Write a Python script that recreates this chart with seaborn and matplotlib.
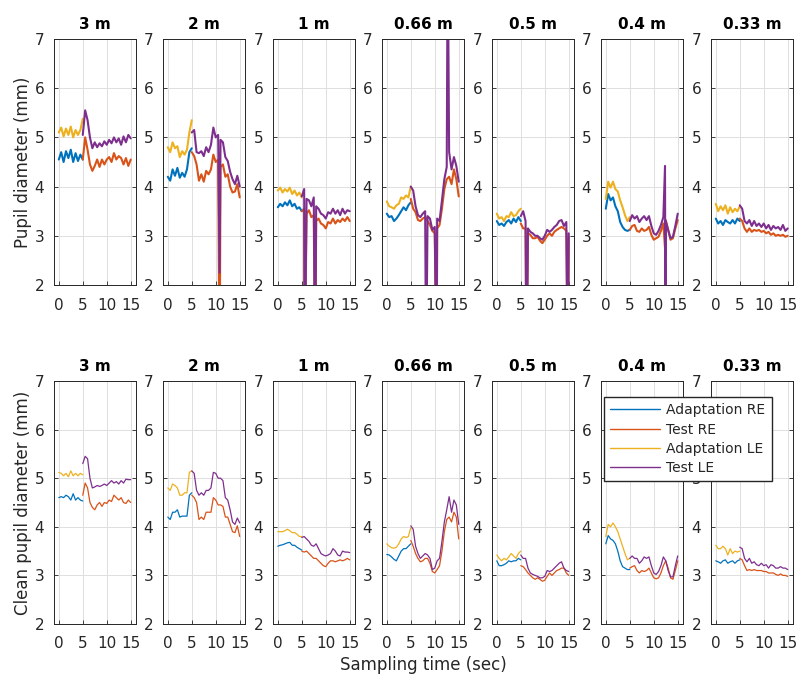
import numpy as np
import matplotlib
matplotlib.use("Agg")
import matplotlib.pyplot as plt
import seaborn as sns

# --- data ---
distances = ['3 m', '2 m', '1 m', '0.66 m', '0.5 m', '0.4 m', '0.33 m']
t_adapt = [0, 0.5, 1, 1.5, 2, 2.5, 3, 3.5, 4, 4.5, 5]
t_test = [5, 5.5, 6, 6.5, 7, 7.5, 8, 8.5, 9, 9.5, 10, 10.5, 11, 11.5, 12, 12.5,
          13, 13.5, 14, 14.5, 15]

# raw recordings (top row), one row per distance
raw_adapt_re = [
    [4.55, 4.7, 4.5, 4.72, 4.58, 4.75, 4.5, 4.68, 4.52, 4.65, 4.55],
    [4.2, 4.12, 4.35, 4.22, 4.38, 4.18, 4.28, 4.2, 4.35, 4.7, 4.78],
    [3.58, 3.65, 3.6, 3.68, 3.62, 3.72, 3.6, 3.65, 3.55, 3.58, 3.5],
    [3.45, 3.38, 3.4, 3.3, 3.35, 3.42, 3.5, 3.58, 3.52, 3.62, 3.68],
    [3.3, 3.22, 3.25, 3.2, 3.28, 3.32, 3.25, 3.35, 3.28, 3.38, 3.3],
    [3.55, 3.85, 3.72, 3.78, 3.6, 3.5, 3.28, 3.18, 3.12, 3.1, 3.12],
    [3.35, 3.25, 3.3, 3.22, 3.32, 3.28, 3.25, 3.32, 3.25, 3.35, 3.3],
]
raw_adapt_le = [
    [5.1, 5.2, 5.02, 5.18, 5.05, 5.22, 5.0, 5.15, 5.05, 5.15, 5.38],
    [4.8, 4.7, 4.9, 4.78, 4.82, 4.6, 4.72, 4.65, 4.75, 5.1, 5.35],
    [3.92, 3.98, 3.88, 3.95, 3.9, 3.98, 3.85, 3.92, 3.82, 3.88, 3.78],
    [3.7, 3.6, 3.58, 3.55, 3.62, 3.65, 3.78, 3.75, 3.82, 3.78, 4.0],
    [3.45, 3.35, 3.38, 3.3, 3.4, 3.38, 3.48, 3.4, 3.42, 3.5, 3.55],
    [3.75, 4.1, 3.98, 4.1, 3.95, 3.9, 3.72, 3.58, 3.42, 3.3, 3.38],
    [3.65, 3.5, 3.6, 3.52, 3.62, 3.45, 3.58, 3.48, 3.55, 3.5, 3.6],
]
raw_test_re = [
    [4.55, 5.0, 4.75, 4.45, 4.32, 4.42, 4.55, 4.4, 4.55, 4.45, 4.55, 4.6, 4.5, 4.68, 4.55, 4.62, 4.58, 4.45, 4.58, 4.42, 4.55],
    [4.7, 4.62, 4.45, 4.12, 4.25, 4.1, 4.32, 4.25, 4.35, 4.65, 4.5, 4.55, 4.4, 4.45, 4.2, 4.25, 4.0, 3.88, 3.9, 4.05, 3.78],
    [3.5, 3.55, 3.45, 3.52, 3.38, 3.42, 3.3, 3.35, 3.25, 3.22, 3.15, 3.28, 3.25, 3.35, 3.25, 3.32, 3.28, 3.35, 3.3, 3.38, 3.3],
    [3.75, 3.55, 3.48, 3.32, 3.3, 3.35, 3.38, 3.3, 3.22, 3.1, 3.05, 3.15, 3.22, 3.55, 3.95, 4.15, 4.2, 4.05, 4.35, 4.15, 3.8],
    [3.25, 3.15, 3.15, 3.05, 3.02, 2.95, 2.95, 2.98, 2.9, 2.85, 2.92, 3.0, 3.05, 3.0, 3.08, 3.12, 3.15, 3.18, 3.15, 3.1, 2.98],
    [3.12, 3.2, 3.22, 3.1, 3.08, 3.15, 3.1, 3.12, 3.18, 3.02, 2.92, 2.95, 2.98, 3.1, 3.25, 3.32, 3.12, 2.92, 2.95, 3.15, 3.32],
    [3.35, 3.3, 3.15, 3.08, 3.15, 3.08, 3.12, 3.1, 3.12, 3.08, 3.1, 3.05, 3.08, 3.02, 3.05, 3.0, 3.02, 3.0, 3.02, 2.98, 3.0],
]
raw_test_le = [
    [5.05, 5.55, 5.35, 5.0, 4.78, 4.9, 4.8, 4.88, 4.82, 4.92, 4.85, 4.95, 4.88, 5.0, 4.9, 4.98, 4.85, 5.02, 4.9, 5.05, 4.98],
    [5.1, 5.15, 4.7, 4.68, 4.72, 4.62, 4.8, 4.7, 4.85, 5.2, 5.0, 5.05, 4.95, 4.9, 4.6, 4.52, 4.3, 4.15, 4.05, 4.22, 4.0],
    [3.8, 3.95, 3.75, 3.72, 3.6, 3.78, 3.6, 3.55, 3.45, 3.42, 3.35, 3.48, 3.45, 3.55, 3.45, 3.52, 3.42, 3.55, 3.45, 3.52, 3.5],
    [4.0, 3.92, 3.6, 3.42, 3.38, 3.45, 3.5, 3.4, 3.35, 3.12, 3.18, 3.35, 3.3, 3.72, 4.15, 4.4, 4.7, 4.35, 4.6, 4.42, 4.1],
    [3.4, 3.5, 3.3, 3.15, 3.08, 3.05, 3.0, 3.0, 2.95, 2.92, 3.0, 3.12, 3.08, 3.12, 3.18, 3.22, 3.3, 3.32, 3.2, 3.28, 3.05],
    [3.3, 3.42, 3.35, 3.4, 3.28, 3.35, 3.4, 3.32, 3.4, 3.2, 3.05, 3.02, 3.1, 3.22, 3.38, 3.3, 3.12, 2.95, 2.98, 3.2, 3.45],
    [3.62, 3.55, 3.3, 3.25, 3.32, 3.2, 3.3, 3.2, 3.25, 3.18, 3.25, 3.15, 3.22, 3.12, 3.2, 3.15, 3.18, 3.12, 3.22, 3.1, 3.15],
]

# blink / artifact samples in the raw test recordings
art_panel = [1, 1, 2, 2, 2, 2, 3, 3, 3, 3, 4, 4, 4, 4, 5, 5, 5]
art_eye = ['RE', 'LE', 'RE', 'LE', 'RE', 'LE', 'LE', 'RE', 'LE', 'LE', 'RE', 'LE', 'RE', 'LE', 'LE', 'LE', 'RE']
art_time = [10.8, 10.8, 5.6, 5.6, 7.8, 7.8, 8.2, 10.4, 10.4, 12.7, 6.2, 6.2, 14.8, 14.8, 12.35, 12.45, 12.45]
art_value = [0, 2.25, 0, 0, 0, 0, 0, 0, 0, 9, 0, 0, 0, 0, 4.42, 0, 2.6]

# cleaned recordings (bottom row)
clean_adapt_re = [
    [4.6, 4.62, 4.6, 4.65, 4.62, 4.55, 4.68, 4.55, 4.6, 4.55, 4.53],
    [4.2, 4.15, 4.3, 4.3, 4.35, 4.2, 4.22, 4.22, 4.22, 4.65, 4.7],
    [3.6, 3.62, 3.63, 3.65, 3.67, 3.68, 3.62, 3.62, 3.58, 3.55, 3.52],
    [3.43, 3.42, 3.38, 3.33, 3.3, 3.4, 3.5, 3.55, 3.55, 3.6, 3.65],
    [3.3, 3.2, 3.2, 3.22, 3.25, 3.3, 3.28, 3.3, 3.3, 3.35, 3.32],
    [3.65, 3.82, 3.75, 3.72, 3.65, 3.5, 3.3, 3.18, 3.15, 3.12, 3.12],
    [3.3, 3.28, 3.25, 3.3, 3.32, 3.25, 3.28, 3.3, 3.25, 3.3, 3.32],
]
clean_adapt_le = [
    [5.12, 5.1, 5.05, 5.1, 5.03, 5.15, 5.05, 5.1, 5.05, 5.1, 5.07],
    [4.8, 4.75, 4.88, 4.85, 4.8, 4.65, 4.65, 4.7, 4.7, 5.12, 5.15],
    [3.9, 3.9, 3.9, 3.92, 3.95, 3.92, 3.88, 3.88, 3.85, 3.8, 3.8],
    [3.65, 3.6, 3.57, 3.56, 3.58, 3.65, 3.75, 3.8, 3.78, 3.8, 3.98],
    [3.42, 3.35, 3.3, 3.35, 3.32, 3.38, 3.45, 3.4, 3.35, 3.45, 3.5],
    [3.8, 4.05, 4.0, 4.08, 4.0, 3.9, 3.75, 3.6, 3.45, 3.32, 3.35],
    [3.62, 3.55, 3.55, 3.6, 3.55, 3.42, 3.55, 3.45, 3.5, 3.48, 3.5],
]
clean_test_re = [
    [4.65, 4.9, 4.8, 4.5, 4.4, 4.35, 4.45, 4.5, 4.42, 4.5, 4.48, 4.55, 4.52, 4.65, 4.6, 4.55, 4.6, 4.5, 4.48, 4.55, 4.5],
    [4.65, 4.6, 4.5, 4.15, 4.2, 4.15, 4.3, 4.3, 4.3, 4.6, 4.55, 4.45, 4.45, 4.42, 4.2, 4.2, 4.05, 3.9, 3.88, 4.02, 3.8],
    [3.5, 3.48, 3.5, 3.45, 3.4, 3.35, 3.35, 3.3, 3.25, 3.2, 3.18, 3.25, 3.3, 3.3, 3.28, 3.3, 3.32, 3.3, 3.32, 3.35, 3.32],
    [3.72, 3.6, 3.45, 3.35, 3.28, 3.3, 3.35, 3.35, 3.25, 3.08, 3.05, 3.12, 3.2, 3.5, 3.9, 4.15, 4.2, 4.1, 4.3, 4.2, 3.75],
    [3.2, 3.18, 3.12, 3.05, 3.0, 2.95, 2.92, 2.95, 2.92, 2.88, 2.9, 2.98, 3.05, 3.0, 3.05, 3.1, 3.12, 3.15, 3.15, 3.05, 3.0],
    [3.15, 3.18, 3.2, 3.1, 3.05, 3.1, 3.08, 3.1, 3.15, 3.05, 2.95, 2.93, 2.95, 3.05, 3.2, 3.3, 3.15, 2.95, 2.92, 3.1, 3.3],
    [3.35, 3.32, 3.2, 3.1, 3.12, 3.1, 3.12, 3.1, 3.1, 3.1, 3.08, 3.08, 3.05, 3.05, 3.05, 3.02, 3.0, 3.03, 3.0, 3.0, 2.98],
]
clean_test_le = [
    [5.3, 5.45, 5.4, 5.0, 4.8, 4.82, 4.85, 4.83, 4.85, 4.88, 4.85, 4.9, 4.95, 4.9, 4.93, 4.88, 4.95, 4.9, 4.98, 4.97, 4.97],
    [5.15, 5.1, 4.75, 4.65, 4.7, 4.65, 4.75, 4.75, 4.8, 5.12, 5.1, 5.0, 5.0, 4.95, 4.6, 4.55, 4.35, 4.1, 4.05, 4.18, 4.08],
    [3.78, 3.8, 3.75, 3.7, 3.62, 3.6, 3.65, 3.55, 3.45, 3.42, 3.4, 3.42, 3.45, 3.55, 3.5, 3.42, 3.4, 3.5, 3.48, 3.48, 3.47],
    [4.02, 3.95, 3.6, 3.45, 3.35, 3.4, 3.45, 3.42, 3.35, 3.12, 3.15, 3.3, 3.35, 3.7, 4.1, 4.35, 4.62, 4.3, 4.55, 4.45, 4.05],
    [3.42, 3.35, 3.35, 3.15, 3.05, 3.02, 3.0, 2.98, 2.95, 2.95, 2.98, 3.1, 3.08, 3.1, 3.15, 3.2, 3.25, 3.28, 3.15, 3.1, 3.08],
    [3.35, 3.4, 3.35, 3.35, 3.25, 3.3, 3.38, 3.35, 3.38, 3.2, 3.05, 3.02, 3.08, 3.2, 3.38, 3.3, 3.1, 2.97, 2.97, 3.2, 3.4],
    [3.58, 3.55, 3.35, 3.28, 3.35, 3.25, 3.28, 3.22, 3.2, 3.25, 3.2, 3.22, 3.15, 3.22, 3.2, 3.15, 3.15, 3.18, 3.15, 3.15, 3.12],
]

labels = ['Adaptation RE', 'Test RE', 'Adaptation LE', 'Test LE']
colors = ['#0072BD', '#D95319', '#EDB120', '#7E2F8E']

sns.set_style("white")
plt.rcParams['font.family'] = ['DejaVu Sans']
ink = '#262626'


def with_artifacts(panel, eye, values):
    # merge blink/artifact samples into the test trace, in time order
    t = list(t_test)
    v = list(values)
    for p, e, ta, va in zip(art_panel, art_eye, art_time, art_value):
        if p == panel and e == eye:
            t.append(ta)
            v.append(va)
    order = np.argsort(t, kind='stable')
    return np.array(t)[order], np.array(v)[order]


fig = plt.figure(figsize=(7.98, 6.75), dpi=100)
lefts = [54, 163, 273, 382, 492, 601, 711]
W, H = 798, 675
rows = [(39, 285), (381, 624)]

for r, (top, bot) in enumerate(rows):
    for i, name in enumerate(distances):
        ax = fig.add_axes([lefts[i] / W, 1 - bot / H, 82 / W, (bot - top) / H])
        if r == 0:
            tre, vre = with_artifacts(i, 'RE', raw_test_re[i])
            tle, vle = with_artifacts(i, 'LE', raw_test_le[i])
            series = [(t_adapt, raw_adapt_re[i]), (tre, vre),
                      (t_adapt, raw_adapt_le[i]), (tle, vle)]
            lw = 1.5
        else:
            series = [(t_adapt, clean_adapt_re[i]), (t_test, clean_test_re[i]),
                      (t_adapt, clean_adapt_le[i]), (t_test, clean_test_le[i])]
            lw = 0.9
        for (x, y), c in zip(series, colors):
            sns.lineplot(x=x, y=y, ax=ax, color=c, lw=lw, estimator=None,
                         sort=False, legend=False)
        ax.set_xlim(-1, 16.1)
        ax.set_ylim(2, 7)
        ax.set_xticks([0, 5, 10, 15])
        ax.set_yticks([2, 3, 4, 5, 6, 7])
        ax.grid(True, color='#dedede', lw=0.7)
        ax.tick_params(direction='in', length=3, width=0.6, colors=ink,
                       labelsize=11, left=True, right=True, bottom=True)
        ax.tick_params(axis='x', pad=9)
        ax.tick_params(axis='y', pad=7)
        for sp in ax.spines.values():
            sp.set_color(ink)
            sp.set_linewidth(0.7)
        ax.set_title(name, fontsize=11, fontweight='bold', color='black', pad=7)
        ax.set_xlabel('')
        if i == 0:
            ax.set_ylabel('Pupil diameter (mm)' if r == 0 else 'Clean pupil diameter (mm)',
                          fontsize=12, color=ink, labelpad=2)

handles = [plt.Line2D([0], [0], color=c, lw=1.0) for c in colors]
fig.legend(handles, labels, loc='upper left',
           bbox_to_anchor=(604 / W, 1 - 397 / H), fontsize=10,
           frameon=True, fancybox=False, framealpha=1, edgecolor=ink,
           handlelength=3.6, borderpad=0.45, labelspacing=0.38,
           handletextpad=0.45, borderaxespad=0)
fig.text(423 / W, 1 - 665 / H, 'Sampling time (sec)', ha='center', va='center',
         fontsize=12, color=ink)

fig.savefig('out.png', dpi=100)
